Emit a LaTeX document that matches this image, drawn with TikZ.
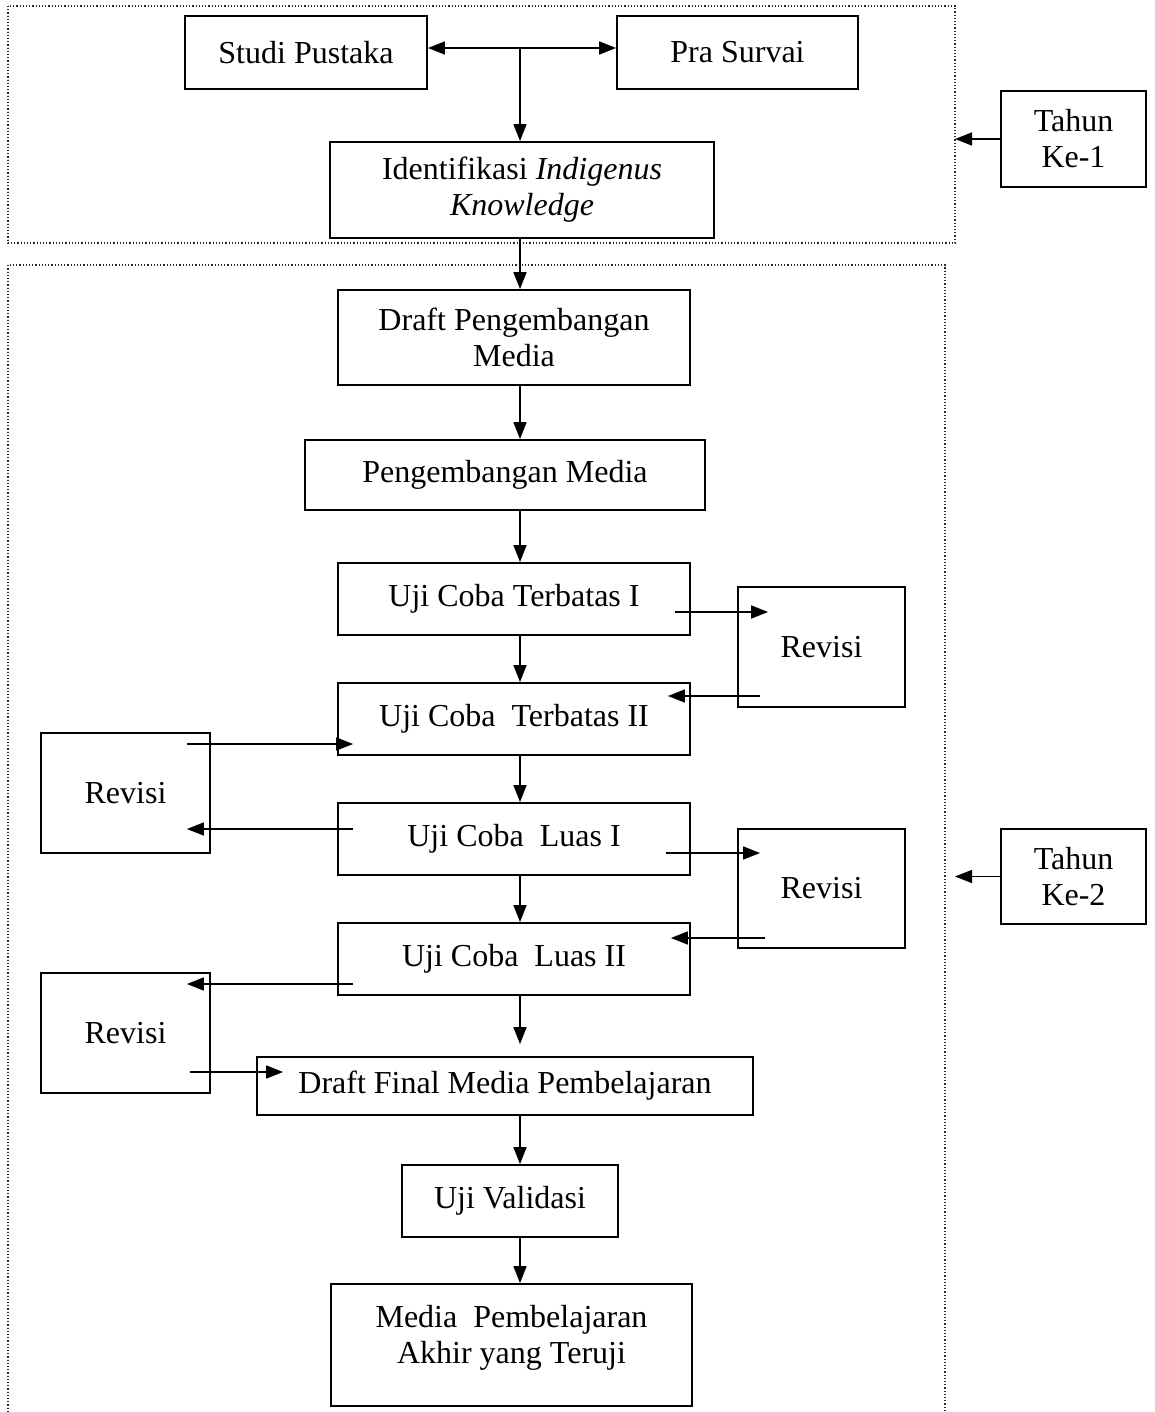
\documentclass[tikz,border=0pt]{standalone}
\usepackage{fontspec}
\setmainfont{Liberation Serif}
\usetikzlibrary{calc,arrows.meta}

\begin{document}
\begin{tikzpicture}[x=1pt,y=-1pt,
    box/.style={draw, line width=1.8pt, align=center, inner sep=0pt,
      font=\fontsize{32}{36}\selectfont},
    arr/.style={line width=1.6pt, -{Triangle[length=17pt,width=13pt]}},
    twoway/.style={line width=1.6pt,
      {Triangle[length=17pt,width=13pt]}-{Triangle[length=17pt,width=13pt]}},
    frame/.style={draw=black!85, line width=1.2pt, dotted}]
  \useasboundingbox (0,0) rectangle (1155,1412);
  % dotted frames of the two years
  \draw[frame] (8,6) rectangle (955,243);
  \draw[frame] (8,1412) -- (8,265) -- (945,265) -- (945,1412);
  \coordinate (spine) at (520,0);
  \coordinate (edge) at (955,0);
  % year 1
  \node[box, minimum width=242pt, minimum height=73pt] (studi) at (306,52.5) {Studi Pustaka};
  \node[box, minimum width=241pt, minimum height=73pt] (pra) at (737.5,52.5) {Pra Survai};
  \node[box, minimum width=384pt, minimum height=96pt] (ident) at (522,190)
    {Identifikasi \textit{Indigenus}\\\textit{Knowledge}};
  \node[box, minimum width=145pt, minimum height=96pt] (tahun1) at (1073.5,139) {Tahun\\Ke-1};
  % year 2
  \node[box, minimum width=352pt, minimum height=95pt] (draft) at (514,337.5) {Draft Pengembangan\\Media};
  \node[box, minimum width=400pt, minimum height=70pt] (peng) at (505,475) {Pengembangan Media};
  \node[box, minimum width=352pt, minimum height=72pt] (tb1) at (514,599) {Uji Coba Terbatas I};
  \node[box, minimum width=352pt, minimum height=72pt] (tb2) at (514,719) {Uji Coba~ Terbatas II};
  \node[box, minimum width=167pt, minimum height=120pt] (rev1) at (821.5,647) {Revisi};
  \node[box, minimum width=169pt, minimum height=120pt] (revL1) at (125.5,793) {Revisi};
  \node[box, minimum width=352pt, minimum height=72pt] (luas1) at (514,839) {Uji Coba~ Luas I};
  \node[box, minimum width=167pt, minimum height=119pt] (rev2) at (821.5,888.5) {Revisi};
  \node[box, minimum width=145pt, minimum height=95pt] (tahun2) at (1073.5,876.5) {Tahun\\Ke-2};
  \node[box, minimum width=352pt, minimum height=72pt] (luas2) at (514,959) {Uji Coba~ Luas II};
  \node[box, minimum width=169pt, minimum height=120pt] (revL2) at (125.5,1033) {Revisi};
  \node[box, minimum width=496pt, minimum height=58pt] (final) at (505,1086) {Draft Final Media Pembelajaran};
  \node[box, minimum width=216pt, minimum height=72pt] (valid) at (510,1201) {Uji Validasi};
  \node[box, minimum width=361pt, minimum height=122pt] (akhir) at (511.5,1345)
    {Media~ Pembelajaran\\Akhir yang Teruji\\[-14pt]};
  % connectors
  \coordinate (fork) at ($(studi.east)+(0,-4.5)$);
  \draw[twoway] (fork) -- ($(pra.west)+(0,-4.5)$);
  \draw[arr] (fork -| spine) -- (ident.north -| spine);
  \draw[arr] (ident.south -| spine) -- (draft.north -| spine);
  \draw[arr] (draft.south -| spine) -- (peng.north -| spine);
  \draw[arr] (peng.south -| spine) -- (tb1.north -| spine);
  \draw[arr] (tb1.south -| spine) -- (tb2.north -| spine);
  \draw[arr] (tb2.south -| spine) -- (luas1.north -| spine);
  \draw[arr] (luas1.south -| spine) -- (luas2.north -| spine);
  \draw[arr] (luas2.south -| spine) -- ($(final.north -| spine)+(0,-12)$);
  \draw[arr] (final.south -| spine) -- (valid.north -| spine);
  \draw[arr] (valid.south -| spine) -- (akhir.north -| spine);
  % revision loops
  \draw[arr] ($(tb1.east)+(-16,13)$) -- ($(rev1.west)+(31,-35)$);
  \draw[arr] ($(rev1.west)+(23,49)$) -- ($(tb2.east)+(-23,-23)$);
  \draw[arr] ($(revL1.east)+(-24,-49)$) -- ($(tb2.west)+(16,25)$);
  \draw[arr] ($(luas1.west)+(16,-10)$) -- ($(revL1.east)+(-24,36)$);
  \draw[arr] ($(luas1.east)+(-25,14)$) -- ($(rev2.west)+(23,-35.5)$);
  \draw[arr] ($(rev2.west)+(28,49.5)$) -- ($(luas2.east)+(-20,-21)$);
  \draw[arr] ($(luas2.west)+(16,25)$) -- ($(revL2.east)+(-24,-49)$);
  \draw[arr] ($(revL2.east)+(-21,39)$) -- ($(final.west)+(27,-14)$);
  % year labels
  \draw[arr] (tahun1.west) -- (tahun1.west -| edge);
  \draw[arr] (tahun2.west) -- (tahun2.west -| edge);
\end{tikzpicture}
\end{document}
